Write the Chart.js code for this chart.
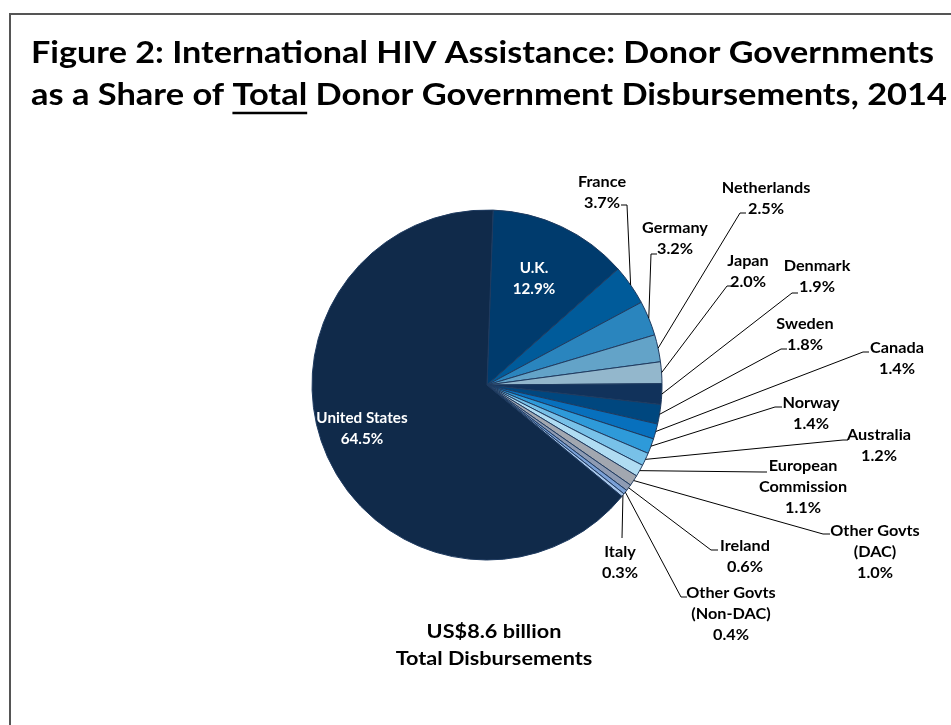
<!DOCTYPE html>
<html lang="en">
<head>
    <meta charset="UTF-8">
    <title>International HIV Assistance: Donor Governments, 2014</title>
    <script src="https://cdn.jsdelivr.net/npm/chart.js@4"></script>
    <style>
        body { margin: 0; background: #fff; }
        .chart-wrap { position: relative; width: 951px; height: 725px; }
    </style>
</head>
<body>

<div class="chart-wrap">
    <canvas id="pieChart"></canvas>
</div>

<script>
    // Share of total donor government disbursements, 2014 (%)
    const donors = ['U.K.', 'France', 'Germany', 'Netherlands', 'Japan', 'Denmark', 'Sweden',
        'Canada', 'Norway', 'Australia', 'European Commission', 'Other Govts (DAC)',
        'Ireland', 'Other Govts (Non-DAC)', 'Italy', 'United States'];
    const shares = [12.9, 3.7, 3.2, 2.5, 2.0, 1.9, 1.8, 1.4, 1.4, 1.2, 1.1, 1.0, 0.6, 0.4, 0.3, 64.5];
    // how each donor name is split over lines in the labels
    const labelNames = [['U.K.'], ['France'], ['Germany'], ['Netherlands'], ['Japan'], ['Denmark'],
        ['Sweden'], ['Canada'], ['Norway'], ['Australia'], ['European', 'Commission'],
        ['Other Govts', '(DAC)'], ['Ireland'], ['Other Govts', '(Non-DAC)'], ['Italy'], ['United States']];

    const titleLines = ['Figure 2: International HIV Assistance: Donor Governments',
        'as a Share of Total Donor Government Disbursements, 2014'];
    const totalNote = ['US$8.6 billion', 'Total Disbursements'];

    const sliceColors = ['#003b6d', '#005b9a', '#2a85be', '#63a3c8', '#93b7cc', '#11325b', '#00477f',
        '#0770bd', '#2e9ad9', '#78c1e8', '#b0dcf2', '#a2a7b0', '#8e9bb3', '#7aa0d6', '#a8c6ea', '#102a4a'];

    // where each label sits: centre of its first line, plus the leader elbow [x1, x2, y]
    const labelLayout = [
        { inside: true, x: 534, y: 268 },
        { x: 602, y: 182, elbow: [627, 621, 205] },
        { x: 675, y: 228, elbow: [651, 657, 254] },
        { x: 766, y: 188, elbow: [740, 746, 213] },
        { x: 748, y: 261, elbow: [727, 731, 286] },
        { x: 817, y: 266, elbow: [792, 798, 293] },
        { x: 805, y: 324, elbow: [781, 787, 349] },
        { x: 897, y: 348, elbow: [863, 869, 352] },
        { x: 811, y: 403, elbow: [775, 782, 407] },
        { x: 879, y: 435, elbow: [843, 848, 440] },
        { x: 803, y: 466, elbow: [762, 767, 472] },
        { x: 875, y: 531, elbow: [823, 830, 534] },
        { x: 745, y: 546, elbow: [711, 718, 550] },
        { x: 731, y: 593, elbow: [681, 687, 597] },
        { x: 620, y: 552, elbow: [622, 622, 538] },
        { inside: true, x: 362, y: 418 }
    ];

    const FONT = 'Lato, "Open Sans", sans-serif';
    const WIDEN = 1.12; // Lato runs narrower than the original face

    // draw text widened horizontally around its anchor point
    function wideText(ctx, text, x, y, sx) {
        ctx.save();
        ctx.translate(x, y);
        ctx.scale(sx, 1);
        ctx.fillText(text, 0, 0);
        ctx.restore();
    }

    // frame, title and the total note under the pie
    const pageText = {
        id: 'pageText',
        beforeDraw(chart) {
            const ctx = chart.ctx;
            ctx.save();
            ctx.fillStyle = '#fff';
            ctx.fillRect(0, 0, chart.width, chart.height);

            ctx.strokeStyle = '#555';
            ctx.lineWidth = 2;
            ctx.beginPath();
            ctx.moveTo(10, chart.height);
            ctx.lineTo(10, 14);
            ctx.lineTo(chart.width, 14);
            ctx.stroke();

            ctx.fillStyle = '#000';
            ctx.textBaseline = 'alphabetic';
            ctx.textAlign = 'left';
            ctx.font = 'bold 30px ' + FONT;
            const widths = [903, 916];
            const baselines = [63, 105];
            const fits = titleLines.map((line, i) => widths[i] / ctx.measureText(line).width);
            titleLines.forEach((line, i) => wideText(ctx, line, 31, baselines[i], fits[i]));

            // underline the word "Total" on the second line
            const before = ctx.measureText('as a Share of ').width * fits[1];
            const word = ctx.measureText('Total').width * fits[1];
            ctx.lineWidth = 2.5;
            ctx.strokeStyle = '#000';
            ctx.beginPath();
            ctx.moveTo(31 + before, 113);
            ctx.lineTo(31 + before + word, 113);
            ctx.stroke();

            ctx.textAlign = 'center';
            ctx.textBaseline = 'middle';
            ctx.font = 'bold 19px ' + FONT;
            wideText(ctx, totalNote[0], 494, 632, 1.14);
            wideText(ctx, totalNote[1], 494, 659, 1.14);
            ctx.restore();
        }
    };

    // donor labels with leader lines back to their slices
    const sliceLabels = {
        id: 'sliceLabels',
        afterDraw(chart) {
            const ctx = chart.ctx;
            const arcs = chart.getDatasetMeta(0).data;
            ctx.save();
            ctx.textAlign = 'center';
            ctx.textBaseline = 'middle';
            arcs.forEach((arc, i) => {
                const spot = labelLayout[i];
                const lines = labelNames[i].concat([shares[i].toFixed(1) + '%']);
                ctx.font = 'bold 14.5px ' + FONT;
                ctx.fillStyle = spot.inside ? '#fff' : '#000';
                lines.forEach((txt, j) => wideText(ctx, txt, spot.x, spot.y + j * 21, spot.inside ? 1.05 : WIDEN));

                if (spot.elbow) {
                    const mid = (arc.startAngle + arc.endAngle) / 2;
                    const px = arc.x + Math.cos(mid) * arc.outerRadius;
                    const py = arc.y + Math.sin(mid) * arc.outerRadius;
                    const [x1, x2, y] = spot.elbow;
                    ctx.strokeStyle = '#000';
                    ctx.lineWidth = 1;
                    ctx.beginPath();
                    ctx.moveTo(px, py);
                    ctx.lineTo(x1, y);
                    ctx.lineTo(x2, y);
                    ctx.stroke();
                }
            });
            ctx.restore();
        }
    };

    new Chart(document.getElementById('pieChart'), {
        type: 'pie',
        data: {
            labels: donors,
            datasets: [{
                data: shares,
                backgroundColor: sliceColors,
                borderColor: '#1f3b60',
                borderWidth: 1
            }]
        },
        options: {
            responsive: true,
            maintainAspectRatio: false,
            animation: false,
            rotation: 2,
            radius: 175,
            layout: { padding: { left: 312, right: 289, top: 210, bottom: 165 } },
            plugins: {
                legend: { display: false },
                title: { display: false },
                tooltip: { enabled: false }
            }
        },
        plugins: [pageText, sliceLabels]
    });
</script>

</body>
</html>
